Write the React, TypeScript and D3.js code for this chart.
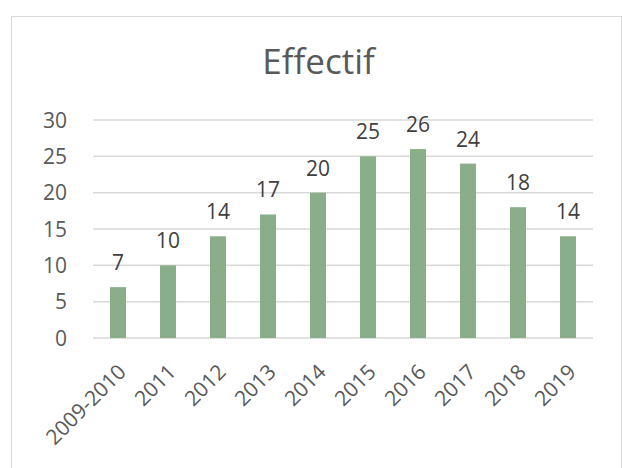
import React from "react";
import * as d3 from "d3";

const categories = ["2009-2010", "2011", "2012", "2013", "2014", "2015", "2016", "2017", "2018", "2019"];
const values = [7, 10, 14, 17, 20, 25, 26, 24, 18, 14];
const yTicks = [0, 5, 10, 15, 20, 25, 30];
const title = "Effectif";

const W = 622;
const H = 468;
const FONT = "'Open Sans', 'Noto Sans', sans-serif";

export default function App() {
  const x = d3.scaleBand<string>().domain(categories).range([93, 593]).paddingInner(0.68).paddingOuter(0.34);
  const y = d3.scaleLinear().domain([0, 30]).range([338, 120]);
  return (
    <svg width={W} height={H} style={{ position: "absolute", left: 0, top: 0 }} fontFamily={FONT}>
      <rect x={0} y={0} width={W} height={H} fill="#fff" />
      <rect x={11.5} y={16.5} width={610} height={H + 10} fill="#fff" stroke="#d9d9d9" strokeWidth={1} />
      <text x={318.5} y={74} textAnchor="middle" fontSize={35} fill="#595959">{title}</text>
      {yTicks.map((t) => (
        <g key={t}>
          <line x1={93} x2={593} y1={y(t)} y2={y(t)} stroke="#d9d9d9" strokeWidth={1.5} />
          <text x={67} y={y(t)} dy="0.36em" textAnchor="end" fontSize={21} fill="#595959">{t}</text>
        </g>
      ))}
      {categories.map((c, i) => (
        <g key={c}>
          <rect x={x(c)} y={y(values[i])} width={x.bandwidth()} height={y(0) - y(values[i])} fill="#8aae8a" />
          <text x={(x(c) as number) + x.bandwidth() / 2} y={y(values[i]) - 17} textAnchor="middle" fontSize={21} fill="#404040">{values[i]}</text>
          <text
            transform={`translate(${(x(c) as number) + x.bandwidth() / 2 + 4},${368}) rotate(-45)`}
            textAnchor="end"
            dy="0.36em"
            fontSize={21}
            fill="#595959"
          >{c}</text>
        </g>
      ))}
    </svg>
  );
}
